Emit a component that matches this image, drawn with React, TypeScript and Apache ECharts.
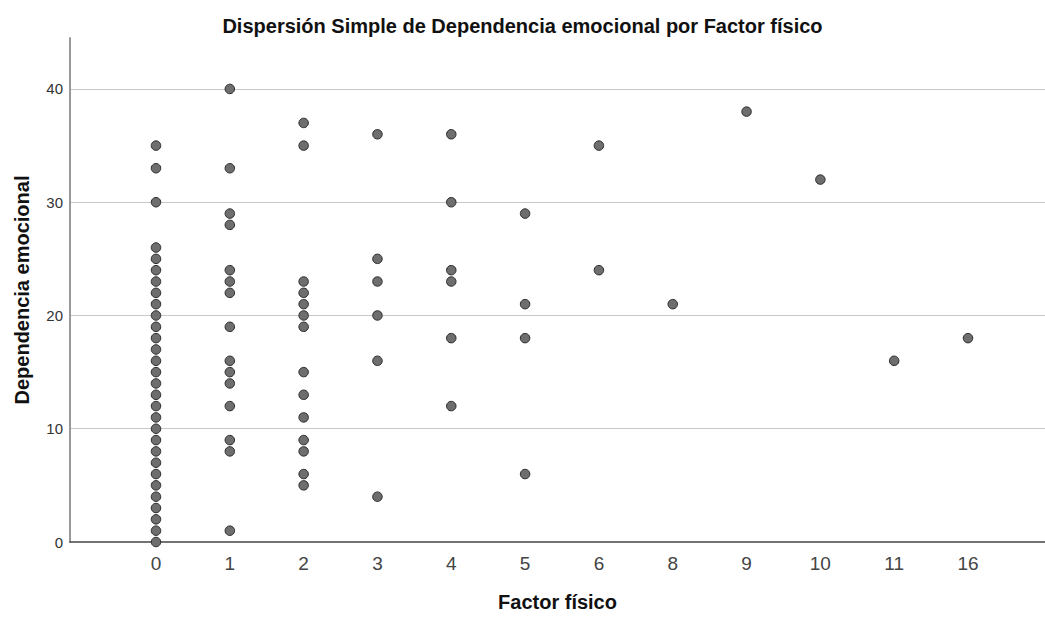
import React, { useEffect, useRef } from "react";
import * as echarts from "echarts";

const categories = ["0", "1", "2", "3", "4", "5", "6", "8", "9", "10", "11", "16"];

const valuesF0 = [0, 1, 2, 3, 4, 5, 6, 7, 8, 9, 10, 11, 12, 13, 14, 15, 16, 17, 18, 19, 20, 21, 22, 23, 24, 25, 26, 30, 33, 35];
const valuesF1 = [40, 33, 29, 28, 24, 23, 22, 19, 16, 15, 14, 12, 9, 8, 1];
const valuesF2 = [37, 35, 23, 22, 21, 20, 19, 15, 13, 11, 9, 8, 6, 5];
const valuesF3 = [36, 25, 23, 20, 16, 4];
const valuesF4 = [36, 30, 24, 23, 18, 12];
const valuesF5 = [29, 21, 18, 6];
const valuesF6 = [35, 24];
const valuesF8 = [21];
const valuesF9 = [38];
const valuesF10 = [32];
const valuesF11 = [16];
const valuesF16 = [18];

const groups = [valuesF0, valuesF1, valuesF2, valuesF3, valuesF4, valuesF5, valuesF6, valuesF8, valuesF9, valuesF10, valuesF11, valuesF16];

const yTicks = [0, 10, 20, 30, 40];

export default function App() {
  const ref = useRef<HTMLDivElement>(null);
  useEffect(() => {
    if (!ref.current) return;
    const chart = echarts.init(ref.current, null, { renderer: "svg" });
    const data: number[][] = [];
    groups.forEach((g, i) => g.forEach((v) => data.push([i, v])));
    const font = "'Liberation Sans', Arial, sans-serif";
    chart.setOption({
      animation: false,
      backgroundColor: "#ffffff",
      title: {
        text: "Dispersión Simple de Dependencia emocional por Factor físico",
        left: "center",
        top: 11,
        textStyle: { fontFamily: font, fontSize: 20, fontWeight: "bold", color: "#111" },
      },
      grid: { left: 70, right: 0, top: 38, bottom: 69 },
      xAxis: {
        type: "value",
        min: -1.165,
        max: 12.043,
        name: "Factor físico",
        nameLocation: "middle",
        nameGap: 50,
        nameTextStyle: { fontFamily: font, fontSize: 20, fontWeight: "bold", color: "#111" },
        axisLine: { show: true, onZero: false, lineStyle: { color: "#444", width: 1.5 } },
        axisTick: { show: false },
        splitLine: { show: false },
        axisLabel: {
          customValues: categories.map((_, i) => i),
          formatter: (v: number) => categories[Math.round(v)] ?? "",
          fontFamily: font,
          fontSize: 19,
          color: "#444",
          margin: 12,
        },
      },
      yAxis: {
        type: "value",
        min: 0,
        max: 44.5,
        interval: 10,
        name: "Dependencia emocional",
        nameLocation: "middle",
        nameGap: 38,
        nameTextStyle: { fontFamily: font, fontSize: 20, fontWeight: "bold", color: "#111" },
        axisLine: { show: true, onZero: false, lineStyle: { color: "#999", width: 2 } },
        axisTick: { show: false },
        splitLine: { show: true, showMinLine: false, showMaxLine: false, lineStyle: { color: "#c8c8c8", width: 1 } },
        axisLabel: {
          customValues: yTicks,
          fontFamily: font,
          fontSize: 15,
          color: "#333",
          margin: 7,
        },
      },
      series: [
        {
          type: "scatter",
          data,
          symbol: "circle",
          symbolSize: 9.5,
          itemStyle: { color: "#6e6e6e", borderColor: "#2a2a2a", borderWidth: 1, opacity: 1 },
        },
      ],
    });
    return () => chart.dispose();
  }, []);
  return <div ref={ref} style={{ position: "absolute", left: 0, top: 0, width: 1045, height: 617 }} />;
}
